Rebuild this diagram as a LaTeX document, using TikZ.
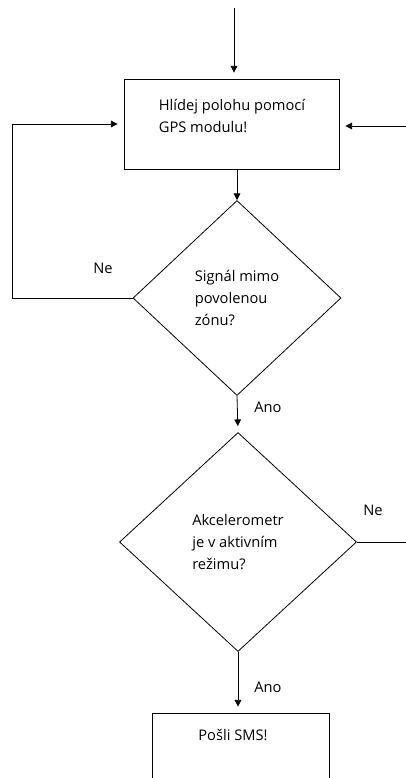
\documentclass[tikz,border=0pt]{standalone}
\usepackage{fontspec}
\setmainfont{Open Sans}
\usetikzlibrary{shapes.geometric,arrows.meta}

\begin{document}
\begin{tikzpicture}[x=0.75pt,y=-0.75pt, line width=0.6pt,
    every node/.style={font=\fontsize{11}{16.5}\selectfont},
    krok/.style={draw, rectangle, minimum width=161.25pt, minimum height=67.5pt},
    otazka/.style={draw, diamond, align=left, inner sep=0pt},
    tok/.style={-{Triangle[length=5pt,width=5pt]}},
    mezera/.style={shorten >=4.5pt}]
\useasboundingbox (0,0) rectangle (406,778);
\clip (0,0) rectangle (406,778);
% bloky
\node[krok] (hlidej) at (231.5,124) {};
\node[align=left] (hlidejtext) at (232,116) {Hlídej polohu pomocí\\GPS modulu!};
\node[otazka, minimum width=156pt, minimum height=146.25pt] (zona) at (237,298) {Signál mimo\\povolenou\\zónu?};
\node[otazka, minimum width=177.75pt, minimum height=164.25pt] (akcel) at (238,542) {Akcelerometr\\je v aktivním\\režimu?};
\node[krok, minimum width=132.75pt] (sms) at (240.5,758) {};
\node (smstext) at (233,735) {Pošli SMS!};
% volne konce
\coordinate (start) at (234,8);
\coordinate (zprava) at (406,126);
\coordinate (ven) at (406,542);
% popisky
\node (ne1) at (103,268) {Ne};
\node (ano1) at (268,407) {Ano};
\node (ne2) at (373,510) {Ne};
\node (ano2) at (268,687) {Ano};
% spojnice
\draw[tok, mezera] (start) -- (start |- hlidej.north);
\draw[tok, mezera] (zprava) -- (hlidej.east |- zprava);
\draw[tok] (hlidej.south -| zona.north) -- (zona.north);
\draw[tok, mezera] (zona.west) -- ++(-120,0) |- (hlidej.west);
\draw[tok, mezera] (zona.south) -- (akcel.north);
\draw (akcel.east) -- (ven);
\draw[tok, mezera] (akcel.south) -- (akcel.south |- sms.north);
\end{tikzpicture}
\end{document}
